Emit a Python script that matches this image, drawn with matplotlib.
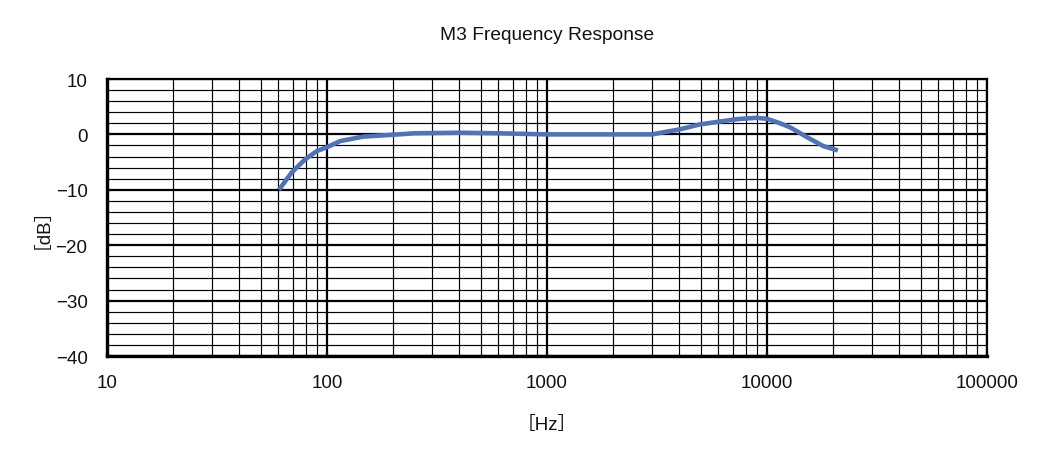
import numpy as np
import matplotlib.pyplot as plt
from matplotlib.ticker import LogLocator, MultipleLocator, FuncFormatter

plt.rcParams['font.family'] = ['Liberation Sans', 'Noto Sans CJK JP', 'DejaVu Sans']

# frequency response
freq = [60.5, 69, 79.5, 90, 100, 115, 146, 193, 250, 400, 600, 1000, 2000, 3000,
        4000, 4950, 6580, 7540, 9010, 10000, 11300, 12700, 15200, 18000, 21000]
level = [-10.0, -6.9, -4.5, -3.0, -2.3, -1.2, -0.4, -0.1, 0.2, 0.3, 0.2, 0.0, 0.0, 0.0,
         0.9, 1.8, 2.5, 2.8, 3.0, 2.8, 2.1, 1.3, -0.5, -2.1, -2.9]

fig = plt.figure(figsize=(10.48, 4.56), dpi=100)
ax = fig.add_axes([107/1048, 1-357/456, 880/1048, 277/456])

ax.plot(freq, level, color='#4F73B8', linewidth=3.3, solid_capstyle='butt', zorder=5)

ax.set_xscale('log')
ax.set_xlim(10, 100000)
ax.set_ylim(-40, 10)

ax.xaxis.set_major_locator(LogLocator(base=10, numticks=10))
ax.xaxis.set_minor_locator(LogLocator(base=10, subs=np.arange(2, 10), numticks=20))
ax.xaxis.set_major_formatter(FuncFormatter(lambda v, p: '%d' % round(v)))
ax.xaxis.set_minor_formatter(FuncFormatter(lambda v, p: ''))
ax.yaxis.set_major_locator(MultipleLocator(10))
ax.yaxis.set_minor_locator(MultipleLocator(2))

ax.grid(which='major', color='black', linewidth=1.6)
ax.grid(which='minor', color='black', linewidth=0.85)
ax.set_axisbelow(True)

ax.spines['top'].set_linewidth(1.6)
ax.spines['right'].set_linewidth(1.6)
ax.spines['left'].set_linewidth(2.4)
ax.spines['bottom'].set_linewidth(2.4)

ax.tick_params(which='major', direction='in', length=3, width=1.6,
               labelsize=13.5, colors='#111111')
ax.tick_params(which='major', top=False, right=False)
ax.tick_params(which='minor', length=0)
ax.tick_params(axis='y', pad=14)
ax.tick_params(axis='x', pad=13)

ax.set_title('M3 Frequency Response', fontsize=13.8, pad=29, color='#111111')
ax.set_xlabel('［Hz］', fontsize=13.5, labelpad=18, color='#111111')
ax.set_ylabel('［dB］', fontsize=13.5, labelpad=10, color='#111111')

fig.savefig('out.png', dpi=100)
